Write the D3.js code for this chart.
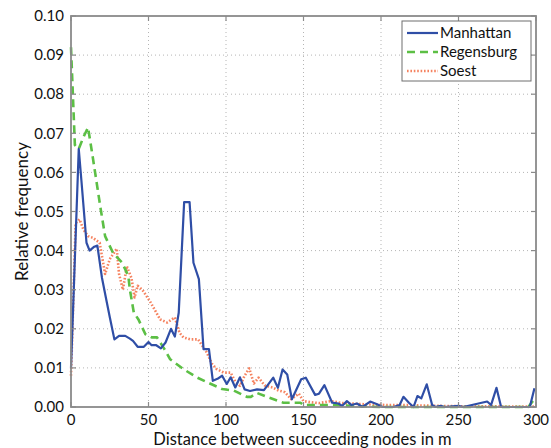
<!DOCTYPE html>
<html>
<head>
<meta charset="utf-8">
<script src="https://cdn.jsdelivr.net/npm/d3@7"></script>
<style>
  body { margin: 0; background: #fff; }
  text { font-family: Lato, "Noto Sans", sans-serif; fill: #111; }
  .grid line { stroke: #b5b5b5; stroke-width: 1; stroke-dasharray: 1,3; }
  .frame { fill: none; stroke: #8a8a8a; stroke-width: 1.8; }
  .tick-mark { stroke: #8a8a8a; stroke-width: 1.2; }
</style>
</head>
<body>
<div id="canvas"></div>
<script>
// ---- DATA ----
var xTicks = [0, 50, 100, 150, 200, 250, 300];
var yTicks = [0, 0.01, 0.02, 0.03, 0.04, 0.05, 0.06, 0.07, 0.08, 0.09, 0.10];
var seriesNames = ['Manhattan', 'Regensburg', 'Soest'];

// [distance in m, relative frequency]
var manhattan = [[0,0.010],[5,0.066],[6.7,0.058],[10,0.042],[12,0.040],[15,0.041],[17,0.0413],[20,0.033],
  [23,0.027],[25,0.023],[28,0.0173],[31,0.0182],[35,0.0182],[38,0.0175],[40,0.0169],[43,0.0154],
  [47,0.0154],[50,0.0166],[52,0.0158],[55,0.0158],[58,0.015],[61,0.0165],[64.5,0.020],[67,0.018],
  [69.5,0.0241],[73,0.0524],[76.5,0.0524],[79,0.0369],[82.5,0.0327],[85.5,0.0148],[89,0.0148],
  [91.5,0.0067],[94.5,0.0072],[97.5,0.008],[100.5,0.0059],[103,0.0076],[106,0.005],[109,0.0076],
  [112,0.0045],[115.5,0.0041],[120,0.0045],[124.5,0.0043],[130.5,0.0075],[133.5,0.0049],[136.5,0.0096],
  [139.5,0.0083],[142.5,0.002],[148.5,0.0071],[151.5,0.0075],[157.5,0.0031],[160,0.0034],[163.5,0.0056],
  [168.5,0.0011],[172.5,0.0009],[175,0.0003],[178,0.0015],[181,0.0005],[184.5,0.0009],[188,0],
  [193,0.0014],[197.5,0.0007],[201,0],[208,0],[212,0.0005],[214.5,0.0026],[218,0.0011],[221,0],
  [223.5,0.0028],[226,0.0022],[229.5,0.0058],[233,0.0005],[235,0],[238.5,0.0003],[241,0],[250,0.0003],
  [253,0],[268.5,0.0014],[271,0.0005],[274.5,0.0049],[277.5,0],[296,0],[299,0.0048]];

var regensburg = [[0,0.092],[2.5,0.067],[5,0.066],[8,0.069],[11,0.0715],[14,0.064],[19,0.051],
  [22,0.0437],[27,0.0395],[33,0.0369],[35,0.0352],[37,0.0335],[38,0.030],[40.5,0.0242],[43.5,0.0224],
  [48,0.0186],[52,0.0178],[55.5,0.0178],[60,0.015],[64,0.0122],[72.5,0.0097],[81,0.0076],[88,0.0063],
  [97.5,0.0046],[105,0.0042],[113.5,0.0026],[116,0.0026],[120,0.0036],[127,0.0025],[137,0.0011],
  [148,0.0011],[150,0.0005],[170,0.0005],[185,0.0002],[200,0],[250,0],[295,0],[299,0.0020]];

var soest = [[0,0.008],[3,0.047],[5.5,0.048],[8,0.0454],[11,0.0437],[14,0.0433],[18.5,0.042],[22,0.034],
  [25,0.0378],[29.5,0.0405],[31,0.034],[33.5,0.030],[36,0.036],[39,0.033],[41,0.028],[43,0.031],
  [46,0.030],[51,0.027],[57.5,0.0224],[62,0.0216],[67,0.0229],[70,0.019],[72.5,0.0178],[77,0.0173],
  [82,0.0173],[87.5,0.014],[91,0.011],[94,0.0097],[98.5,0.0088],[103,0.0088],[106,0.0065],[109,0.0054],
  [112,0.008],[115,0.0099],[118,0.006],[121,0.0075],[125,0.0055],[130,0.005],[134,0.0042],[138,0.0038],
  [142,0.002],[147,0.0034],[150,0.0015],[155,0.0012],[160,0.001],[168,0.0015],[175,0.001],[185,0.0008],
  [195,0.0006],[205,0.0005],[215,0.0005],[225,0.0004],[235,0.0003],[250,0.0002],[300,0.0001]];

// ---- CONVENTIONS ----
var outerWidth = 551, outerHeight = 448;
var margin = {top:16, right:15, bottom:41, left:71};
var width = outerWidth - margin.left - margin.right,
    height = outerHeight - margin.top - margin.bottom;

var svg = d3.select('#canvas').append('svg')
    .attr('width', outerWidth)
    .attr('height', outerHeight);

var plot = svg.append('g')
    .attr('transform', 'translate(' + margin.left + ',' + margin.top + ')');

// ---- SCALES ----
var scaleX = d3.scaleLinear().domain([0, 300]).range([0, width]);
var scaleY = d3.scaleLinear().domain([0, 0.10]).range([height, 0]);

var styles = {
    Manhattan: {data: manhattan, color: '#2f4ea6', width: 2.2, dash: null},
    Regensburg: {data: regensburg, color: '#5cbf45', width: 2.6, dash: '8,5'},
    Soest: {data: soest, color: '#f5825f', width: 2.6, dash: '1.6,1.8'}
};

// ---- GRID ----
var grid = plot.append('g').attr('class', 'grid');
grid.selectAll('.gx').data(xTicks.slice(1, -1)).enter().append('line')
    .attr('x1', scaleX).attr('x2', scaleX)
    .attr('y1', 0).attr('y2', height);
grid.selectAll('.gy').data(yTicks.slice(1, -1)).enter().append('line')
    .attr('x1', 0).attr('x2', width)
    .attr('y1', scaleY).attr('y2', scaleY);

// ---- LINES ----
var lineGenerator = d3.line()
    .x(function(d){ return scaleX(d[0]); })
    .y(function(d){ return scaleY(d[1]); });

// draw soest first, manhattan on top
['Soest', 'Regensburg', 'Manhattan'].forEach(function(name){
    var s = styles[name];
    plot.append('path')
        .datum(s.data)
        .attr('d', lineGenerator)
        .style('fill', 'none')
        .style('stroke', s.color)
        .style('stroke-width', s.width)
        .style('stroke-dasharray', s.dash)
        .style('stroke-linejoin', 'round');
});

// ---- FRAME + TICKS (matlab style, inward on all sides) ----
plot.append('rect').attr('class', 'frame')
    .attr('x', 0).attr('y', 0).attr('width', width).attr('height', height);

var tl = 5;
xTicks.forEach(function(t){
    var x = scaleX(t);
    plot.append('line').attr('class', 'tick-mark').attr('x1', x).attr('x2', x).attr('y1', height).attr('y2', height - tl);
    plot.append('line').attr('class', 'tick-mark').attr('x1', x).attr('x2', x).attr('y1', 0).attr('y2', tl);
    plot.append('text').attr('x', x).attr('y', height + 18)
        .attr('text-anchor', 'middle').style('font-size', '15px').text(t);
});
yTicks.forEach(function(t){
    var y = scaleY(t);
    plot.append('line').attr('class', 'tick-mark').attr('x1', 0).attr('x2', tl).attr('y1', y).attr('y2', y);
    plot.append('line').attr('class', 'tick-mark').attr('x1', width).attr('x2', width - tl).attr('y1', y).attr('y2', y);
    plot.append('text').attr('x', -7).attr('y', y).attr('dy', '0.35em')
        .attr('text-anchor', 'end').style('font-size', '15px').text(d3.format('.2f')(t));
});

// ---- AXIS LABELS ----
svg.append('text')
    .attr('x', margin.left + width / 2 - 1).attr('y', 445)
    .attr('text-anchor', 'middle').style('font-size', '16.5px')
    .text('Distance between succeeding nodes in m');
svg.append('text')
    .attr('transform', 'translate(28,' + (margin.top + height / 2) + ') rotate(-90)')
    .attr('text-anchor', 'middle').style('font-size', '17px')
    .text('Relative frequency');

// ---- LEGEND ----
var legend = svg.append('g').attr('transform', 'translate(402,21)');
legend.append('rect')
    .attr('width', 129).attr('height', 60)
    .style('fill', '#fff').style('stroke', '#6e6e6e').style('stroke-width', 1);
seriesNames.forEach(function(name, i){
    var s = styles[name], y = 12 + i * 19;
    legend.append('line')
        .attr('x1', 5).attr('x2', 36).attr('y1', y).attr('y2', y)
        .style('stroke', s.color).style('stroke-width', s.width)
        .style('stroke-dasharray', s.dash);
    legend.append('text').attr('x', 38).attr('y', y).attr('dy', '0.36em')
        .style('font-size', '15px').text(name);
});
</script>
</body>
</html>
